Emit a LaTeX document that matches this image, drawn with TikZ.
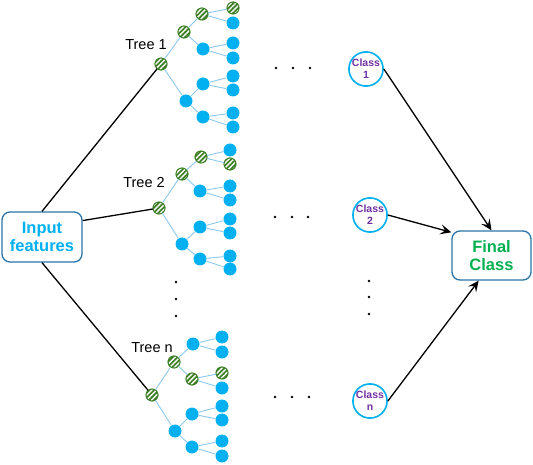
\documentclass[tikz,border=0pt]{standalone}
\usepackage{fontspec}
\setmainfont{Liberation Sans}
\usetikzlibrary{arrows.meta,patterns.meta}
\definecolor{cy}{HTML}{00B0F0}
\definecolor{lb}{HTML}{8CC8EC}
\definecolor{grn}{HTML}{3D7F24}
\definecolor{pur}{HTML}{7030A0}
\definecolor{fgreen}{HTML}{00B050}
\definecolor{boxc}{HTML}{2A74A8}
\tikzset{
  gnode/.style={circle, draw=grn, line width=0.7pt, fill=grn, minimum size=12pt, inner sep=0pt,
    postaction={pattern={Lines[angle=45,distance=3.4pt,line width=1.4pt]}, pattern color=white},
    postaction={draw=grn, line width=0.9pt}},
  bnode/.style={circle, fill=cy, minimum size=13pt, inner sep=0pt},
  tedge/.style={draw=lb, line width=0.9pt},
  blk/.style={draw=black, line width=1.3pt},
  arr/.style={draw=black, line width=1.3pt, -{Stealth[length=11pt,width=10pt,inset=4.5pt]}},
  bigbox/.style={draw=boxc, line width=1.3pt, rounded corners=8pt, minimum width=80pt, minimum height=50pt,
    align=center, font=\fontsize{16.5}{18.5}\selectfont\bfseries, inner sep=0pt},
  classc/.style={circle, draw=cy, line width=1.6pt, minimum size=31pt, inner sep=0pt, align=center,
    text=pur, font=\fontsize{10.5}{12}\selectfont\bfseries},
  treelbl/.style={font=\fontsize{14.5}{16}\selectfont, inner sep=0pt},
  dotn/.style={circle, fill=black, minimum size=2.8pt, inner sep=0pt},
}
\begin{document}
\begin{tikzpicture}[x=1pt,y=-1pt]
\useasboundingbox (0,0) rectangle (533,465);

% Input and final
\node[bigbox, text=cy] (inp) at (42,237) {Input\\features};
\node[bigbox, text=fgreen, minimum width=79pt, minimum height=49pt] (fin) at (491.5,255.5) {Final\\Class};

% ---------- Tree 1 ----------
\node[gnode] (t1r) at (161,64) {};
\node[gnode] (t1a) at (184,32) {};
\node[bnode] (t1b) at (186,101) {};
\node[gnode] (t1aa) at (202,14) {};
\node[bnode] (t1ab) at (203,49) {};
\node[bnode] (t1ba) at (203,84) {};
\node[bnode] (t1bb) at (203,117) {};
\node[gnode] (t1aa1) at (233,8) {};
\node[bnode] (t1aa2) at (233,23) {};
\node[bnode] (t1ab1) at (233,43) {};
\node[bnode] (t1ab2) at (233,58) {};
\node[bnode] (t1ba1) at (233,76) {};
\node[bnode] (t1ba2) at (233,90) {};
\node[bnode] (t1bb1) at (233,113) {};
\node[bnode] (t1bb2) at (233,127) {};

% ---------- Tree 2 ----------
\node[gnode] (t2r) at (159,208) {};
\node[gnode] (t2a) at (182,174) {};
\node[bnode] (t2b) at (182,244) {};
\node[gnode] (t2aa) at (201,157) {};
\node[bnode] (t2ab) at (200,191) {};
\node[bnode] (t2ba) at (200,227) {};
\node[bnode] (t2bb) at (200,259) {};
\node[bnode] (t2aa1) at (230,150) {};
\node[gnode] (t2aa2) at (230,164) {};
\node[bnode] (t2ab1) at (230,186) {};
\node[bnode] (t2ab2) at (230,200) {};
\node[bnode] (t2ba1) at (230,219) {};
\node[bnode] (t2ba2) at (230,233) {};
\node[bnode] (t2bb1) at (230,256) {};
\node[bnode] (t2bb2) at (230,269) {};

% ---------- Tree n ----------
\node[gnode] (tnr) at (152,395) {};
\node[gnode] (tna) at (174,362) {};
\node[bnode] (tnb) at (175,431) {};
\node[bnode] (tnaa) at (193,344) {};
\node[gnode] (tnab) at (192,379) {};
\node[bnode] (tnba) at (192,414) {};
\node[bnode] (tnbb) at (192,447) {};
\node[bnode] (tnaa1) at (222,337) {};
\node[bnode] (tnaa2) at (222,352) {};
\node[gnode] (tnab1) at (222,373) {};
\node[bnode] (tnab2) at (222,388) {};
\node[bnode] (tnba1) at (222,406) {};
\node[bnode] (tnba2) at (222,420) {};
\node[bnode] (tnbb1) at (222,441) {};
\node[bnode] (tnbb2) at (222,456) {};

% tree edges
\foreach \t in {t1,t2,tn}{
  \draw[tedge] (\t r) -- (\t a);
  \draw[tedge] (\t r) -- (\t b);
  \draw[tedge] (\t a) -- (\t aa);
  \draw[tedge] (\t a) -- (\t ab);
  \draw[tedge] (\t b) -- (\t ba);
  \draw[tedge] (\t b) -- (\t bb);
  \foreach \c in {aa,ab,ba,bb}{
    \draw[tedge] (\t\c) -- (\t\c1);
    \draw[tedge] (\t\c) -- (\t\c2);
  }
}

% tree labels
\node[treelbl] (l1) at (146,45) {Tree 1};
\node[treelbl] (l2) at (144,183) {Tree 2};
\node[treelbl] (ln) at (152,348) {Tree n};

% connectors from input
\draw[blk] (inp.north) -- (t1r);
\draw[blk] (inp.22) -- (t2r);
\draw[blk] (inp.south) -- (tnr);

% dots
\node[dotn] (h1a) at (276,68) {};
\node[dotn] (h1b) at (293,68) {};
\node[dotn] (h1c) at (310,68) {};
\node[dotn] (h2a) at (275,217) {};
\node[dotn] (h2b) at (292,217) {};
\node[dotn] (h2c) at (308,217) {};
\node[dotn] (h3a) at (275,397) {};
\node[dotn] (h3b) at (292,397) {};
\node[dotn] (h3c) at (309,397) {};
\node[dotn] (v1a) at (176,282) {};
\node[dotn] (v1b) at (176,299) {};
\node[dotn] (v1c) at (176,316) {};
\node[dotn] (v2a) at (369,281) {};
\node[dotn] (v2b) at (369,297) {};
\node[dotn] (v2c) at (369,314) {};

% classes
\node[classc] (c1) at (366,69) {Class\\1};
\node[classc] (c2) at (370,215) {Class\\2};
\node[classc] (cn) at (370,401) {Class\\n};

% arrows
\draw[arr] (c1.east) -- (fin.north);
\draw[arr] (c2.east) -- (fin.150);
\draw[arr] (cn.east) -- (fin.243);
\end{tikzpicture}
\end{document}
